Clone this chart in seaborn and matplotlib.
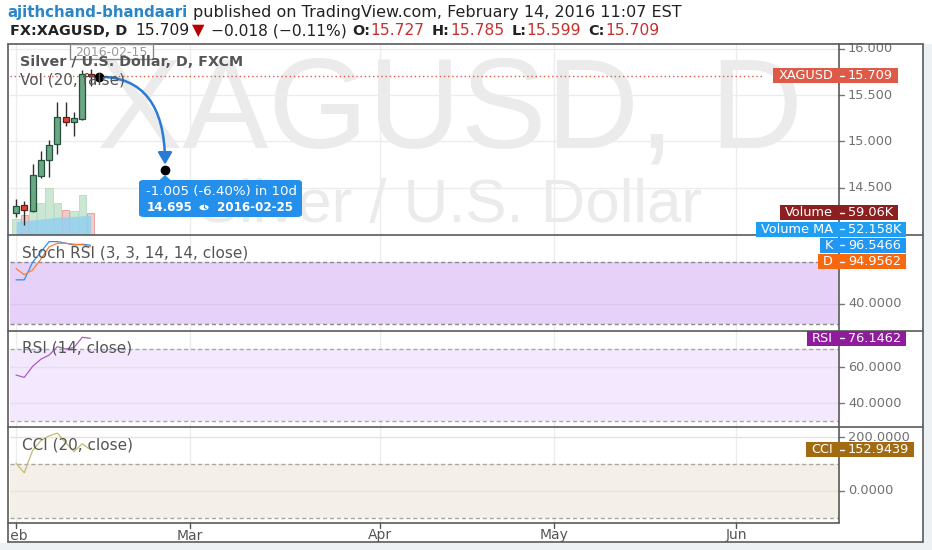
import numpy as np
import pandas as pd
import matplotlib
matplotlib.use("Agg")
import matplotlib.pyplot as plt
import seaborn as sns
from matplotlib.patches import Rectangle, FancyBboxPatch, Polygon, Circle, FancyArrowPatch, ArrowStyle
from matplotlib.lines import Line2D
from matplotlib.path import Path
from matplotlib.transforms import Bbox

# ---------------- data ----------------
dates = ["2016-02-01", "2016-02-02", "2016-02-03", "2016-02-04", "2016-02-05",
         "2016-02-08", "2016-02-09", "2016-02-10", "2016-02-11", "2016-02-12"]
opens = [14.23, 14.31, 14.25, 14.63, 14.80, 14.97, 15.27, 15.21, 15.24, 15.727]
highs = [14.38, 14.36, 14.76, 14.90, 15.02, 15.43, 15.43, 15.32, 15.77, 15.785]
lows = [14.18, 14.10, 14.24, 14.60, 14.62, 14.87, 15.17, 15.06, 15.23, 15.599]
closes = [14.30, 14.26, 14.64, 14.80, 14.96, 15.27, 15.21, 15.25, 15.727, 15.709]
volume_k = [42, 53, 66, 85, 124, 85, 66, 63, 106, 59.06]
volume_ma_k = [36, 38, 40, 42, 45, 47, 48, 49, 51, 52.158]
stoch_k = [63, 63, 80, 90, 100, 100, 98.5, 96.7, 97.5, 96.5466]
stoch_d = [74, 68, 72.5, 83, 95, 98.4, 98.4, 97.5, 97, 94.9562]
rsi_vals = [55.7, 54.4, 60.5, 64.5, 66.8, 71.5, 70.2, 71.0, 76.7, 76.1462]
cci_vals = [103, 68, 150, 188, 205, 215, 180, 146, 176, 152.9439]

month_ticks = ["2016-02-01", "2016-03-01", "2016-04-01", "2016-05-02", "2016-06-01"]
month_labels = ["Feb", "Mar", "Apr", "May", "Jun"]
price_ticks = [14.5, 15.0, 15.5, 16.0]
stoch_ticks = [40, 80]
rsi_ticks = [40, 60]
cci_ticks = [0, 200]
last_price = 15.709
proj_start = ("2016-02-15", 15.70)
proj_end = ("2016-02-25", 14.695)

# ---------------- setup ----------------
sns.set_theme(style="white")
plt.rcParams["font.family"] = ["DejaVu Sans"]

W, H = 932, 550
fig = plt.figure(figsize=(W / 100, H / 100), dpi=100, facecolor="white")
fig.canvas.draw()
R = fig.canvas.get_renderer()

cal = pd.bdate_range("2016-02-01", "2016-06-30")
def bx(d):
    return cal.get_loc(pd.Timestamp(d))
xs = np.array([bx(d) for d in dates])

PL, PR = 10, 839
BAR_PX, X0_PX = 8.28, 16
XLIM = ((PL - X0_PX) / BAR_PX, (PR - X0_PX) / BAR_PX)

def axpx(x0, y0, x1, y1, **kw):
    ax = fig.add_axes([x0 / W, 1 - y1 / H, (x1 - x0) / W, (y1 - y0) / H], **kw)
    ax.set_xlim(*XLIM)
    ax.set_xticks([]); ax.set_yticks([])
    for s in ax.spines.values():
        s.set_visible(False)
    return ax

ax_vol = axpx(PL, 44, PR, 235)
ax_main = axpx(PL, 44, PR, 235)
ax_main.set_facecolor("none")
ax_st = axpx(PL, 235, PR, 331)
ax_rsi = axpx(PL, 331, PR, 427)
ax_cci = axpx(PL, 427, PR, 523)

ax_main.set_ylim(13.989, 16.054)
ax_vol.set_ylim(0, 506)
ax_st.set_ylim(13.5, 106.4)
ax_rsi.set_ylim(26.8, 80.2)
ax_cci.set_ylim(-119, 238)

GRID = "#ececec"
mx = [bx(d) for d in month_ticks]
for ax in (ax_vol, ax_st, ax_rsi, ax_cci):
    for m in mx:
        ax.axvline(m, color=GRID, lw=1, zorder=0.2)
for v in price_ticks:
    ax_vol.axhline((v - 13.989) / (16.054 - 13.989) * 506, color=GRID, lw=1, zorder=0.2)
for v in stoch_ticks[:1]:
    ax_st.axhline(v, color="#dcc8ee", lw=1, zorder=0.6)
for v in rsi_ticks:
    ax_rsi.axhline(v, color="#e6def0", lw=1, zorder=0.6)
for v in cci_ticks:
    ax_cci.axhline(v, color="#e8e2dc", lw=1, zorder=0.6)

def ptext(x, y, s, **kw):
    return fig.text(x / W, 1 - y / H, s, **kw)

def prect(x0, y0, x1, y1, color, z=2.0, **kw):
    r = Rectangle((x0 / W, 1 - y1 / H), (x1 - x0) / W, (y1 - y0) / H,
                  transform=fig.transFigure, facecolor=color, edgecolor="none", zorder=z, **kw)
    fig.add_artist(r)
    return r

def pline(x0, y0, x1, y1, color="#5a5a5a", lw=1.2, z=2.2, **kw):
    fig.add_artist(Line2D([x0 / W, x1 / W], [1 - y0 / H, 1 - y1 / H],
                          transform=fig.transFigure, color=color, lw=lw, zorder=z, **kw))

def text_w(s, size, **kw):
    t = fig.text(0, 0, s, fontsize=size, **kw)
    w = t.get_window_extent(R).width
    t.remove()
    return w

def fit(s, target, **kw):
    return 10 * target / text_w(s, 10, **kw)

# ---------------- watermark ----------------
WMX = 450
wm1 = fit("XAGUSD, D", 706, family="Liberation Sans")
wm2 = fit("Silver / U.S. Dollar", 506, family="Liberation Sans")
ax_vol.text(WMX / W, 1 - 147 / H, "XAGUSD, D", transform=fig.transFigure, ha="center",
            va="baseline", fontsize=wm1, family="Liberation Sans", color="#ebebeb", zorder=0.1, clip_on=True)
ax_vol.text(WMX / W, 1 - 222 / H, "Silver / U.S. Dollar", transform=fig.transFigure, ha="center",
            va="baseline", fontsize=wm2, family="Liberation Sans", color="#ebebeb", zorder=0.1, clip_on=True)

# ---------------- volume ----------------
up = np.array(closes) >= np.array(opens)
vcols = ["#cbe7d3" if u else "#f4c9c6" for u in up]
vedge = ["#b5dcc0" if u else "#e79a94" for u in up]
ax_vol.bar(xs, volume_k, width=0.9, color=vcols, edgecolor=vedge, lw=0.6, zorder=1)
ax_vol.fill_between(xs, 0, volume_ma_k, color="#93d0ef", alpha=0.85, lw=0, zorder=1.5)

# ---------------- candles ----------------
ax_main.axhline(last_price, xmax=(763 - PL) / (PR - PL), color="#dd5a47", lw=1, ls=(0, (1, 2)), zorder=2)
for x, o, h, l, c, u in zip(xs, opens, highs, lows, closes, up):
    ax_main.vlines(x, l, h, color="#2e2e2e", lw=1, zorder=3)
    fc, ec = ("#6aa884", "#23503a") if u else ("#d9473c", "#6a1c15")
    ax_main.add_patch(Rectangle((x - 0.36, min(o, c)), 0.72, max(abs(c - o), 0.006),
                                facecolor=fc, edgecolor=ec, lw=0.9, zorder=4))

# ---------------- projection drawing ----------------
sx, sy = bx(proj_start[0]), proj_start[1]
ex, ey = bx(proj_end[0]), proj_end[1]
dy_gap = 5 * (16.054 - 13.989) / 191
path = Path([(sx, sy), (ex, sy), (ex, ey + dy_gap)], [Path.MOVETO, Path.CURVE3, Path.CURVE3])
arrow = FancyArrowPatch(path=path, arrowstyle=ArrowStyle("-|>", head_length=0.6, head_width=0.35),
                        mutation_scale=12, color="#2a7bd8", lw=1.8, zorder=6)
ax_main.add_patch(arrow)
ax_main.plot([sx, ex], [sy, ey], "o", color="black", ms=6, zorder=7, clip_on=False)

# info box
BOXC = "#2490ec"
fig.add_artist(FancyBboxPatch((139 / W, 1 - 217 / H), (302 - 139) / W, (217 - 180) / H,
                              boxstyle="round,pad=0,rounding_size=0.005", transform=fig.transFigure,
                              facecolor=BOXC, edgecolor="none", zorder=2.6))
fig.add_artist(Polygon([(159 / W, 1 - 180.5 / H), (165 / W, 1 - 175 / H), (171 / W, 1 - 180.5 / H)],
                       closed=True, transform=fig.transFigure, facecolor=BOXC, edgecolor="none", zorder=2.6))
chg = ey - sy
pct = chg / sy * 100
ndays = (pd.Timestamp(proj_end[0]) - pd.Timestamp(proj_start[0])).days
l1 = f"{chg:.3f} ({pct:.2f}%) in {ndays}d"
s1 = fit(l1, 151)
ptext(146, 192, l1, fontsize=s1, color="white", va="center", ha="left", zorder=3)
s2 = fit(proj_end[0], 76, weight="bold")
ptext(146.7, 207.5, f"{ey:.3f}", fontsize=s2, color="white", weight="bold", va="center", ha="left", zorder=3)
fig.add_artist(Circle((204 / W, 1 - 207.5 / H), radius=4.6 / W, transform=fig.transFigure,
                      facecolor="white", edgecolor="none", zorder=2.8))
pline(204, 207.5, 204, 204.8, color=BOXC, lw=0.8, z=2.9)
pline(204, 207.5, 206.2, 208.8, color=BOXC, lw=0.8, z=2.9)
ptext(217, 207.5, proj_end[0], fontsize=s2, color="white", weight="bold", va="center", ha="left", zorder=3)

# date tooltip at top
prect(70, 44, 153, 58.5, "white", z=2.3)
fig.add_artist(Rectangle((70 / W, 1 - 58.5 / H), 83 / W, 14.5 / H, transform=fig.transFigure,
                         facecolor="none", edgecolor="#8a8a8a", lw=1, zorder=2.35))
sz_tip = fit(proj_start[0], 72)
ptext(111.5, 53, proj_start[0], fontsize=sz_tip, color="#9a9a9a", ha="center", va="center", zorder=2.4)

# ---------------- indicators ----------------
ax_st.axhspan(20, 80, color="#e6d2f8", zorder=0.3, lw=0)
for v in (20, 80):
    ax_st.axhline(v, color="#8a8a8a", lw=1, ls=(0, (3, 2)), zorder=0.7)
sns.lineplot(x=xs, y=stoch_k, ax=ax_st, color="#2f8ff0", lw=0.9, zorder=2, legend=False)
sns.lineplot(x=xs, y=stoch_d, ax=ax_st, color="#ff7b2e", lw=0.9, zorder=2, legend=False)

ax_rsi.axhspan(30, 70, color="#f3e8fd", zorder=0.3, lw=0)
for v in (30, 70):
    ax_rsi.axhline(v, color="#a8a8a8", lw=1, ls=(0, (3, 2)), zorder=0.7)
sns.lineplot(x=xs, y=rsi_vals, ax=ax_rsi, color="#a75ec2", lw=0.9, zorder=2, legend=False)

ax_cci.axhspan(-100, 100, color="#f4efe9", zorder=0.3, lw=0)
for v in (-100, 100):
    ax_cci.axhline(v, color="#a8a8a8", lw=1, ls=(0, (3, 2)), zorder=0.7)
sns.lineplot(x=xs, y=cci_vals, ax=ax_cci, color="#c4bb6c", lw=0.9, zorder=2, legend=False)

for ax in (ax_vol, ax_main, ax_st, ax_rsi, ax_cci):
    ax.set_xlim(*XLIM)
    ax.set_xlabel(""); ax.set_ylabel("")
    ax.set_xticks([]); ax.set_yticks([])
ax_st.set_ylim(13.5, 106.4)
ax_rsi.set_ylim(26.8, 80.2)
ax_cci.set_ylim(-119, 238)

# ---------------- frame ----------------
prect(0, 542.5, W, H, "#eef1f4", z=0.5)
prect(923.5, 44, W, H, "#eef1f4", z=0.5)
pline(8, 44, 923, 44)
pline(8, 542, 923, 542)
pline(8, 44, 8, 542)
pline(923, 44, 923, 542)
pline(839, 44, 839, 523)
pline(8, 523, 839, 523)
for yy in (235, 331, 427):
    pline(8, yy, 923, yy)

# ---------------- texts in panes ----------------
sz_leg = fit("Stoch RSI (3, 3, 14, 14, close)", 225)
sz_title = fit("Silver / U.S. Dollar, D, FXCM", 223, weight="bold")
ptext(20, 62, "Silver / U.S. Dollar, D, FXCM", fontsize=sz_title, weight="bold", color="#555555", va="center", zorder=3)
ptext(20.5, 80, "Vol (20, false)", fontsize=sz_leg, color="#555555", va="center", zorder=3)
ptext(21.5, 252.7, "Stoch RSI (3, 3, 14, 14, close)", fontsize=sz_leg, color="#555555", va="center", zorder=3)
ptext(21.5, 348.3, "RSI (14, close)", fontsize=sz_leg, color="#555555", va="center", zorder=3)
ptext(21.5, 445, "CCI (20, close)", fontsize=sz_leg, color="#555555", va="center", zorder=3)

# ---------------- right axis ----------------
sz_ax = fit("15.000", 45)
def ypx(ax, v):
    return H - ax.transData.transform((0, v))[1]

for ax, ticks, fmt in ((ax_main, price_ticks, "{:.3f}"), (ax_st, stoch_ticks, "{:.4f}"),
                       (ax_rsi, rsi_ticks, "{:.4f}"), (ax_cci, cci_ticks, "{:.4f}")):
    for v in ticks:
        y = ypx(ax, v)
        pline(839, y, 844, y, color="#777777", lw=1, z=2.1)
        ptext(848, y, fmt.format(v), fontsize=sz_ax, color="#707070", va="center", ha="left", zorder=2.05)

def label_group(items):
    items = sorted(items, key=lambda t: t[0])
    for i in range(1, len(items)):
        if items[i][0] < items[i - 1][0] + 16.5:
            items[i] = (items[i - 1][0] + 16.5,) + tuple(items[i][1:])
    for y, name, val, col in items:
        t = ptext(833, y, name, fontsize=sz_ax, color="white", va="center", ha="right", zorder=3)
        bb = t.get_window_extent(R)
        prect(bb.x0 - 5, y - 7.5, 838, y + 7.5, col, z=2.8)
        t2 = ptext(848, y, val, fontsize=sz_ax, color="white", va="center", ha="left", zorder=3)
        bb2 = t2.get_window_extent(R)
        prect(838, y - 7.5, bb2.x1 + 5, y + 7.5, col, z=2.8)
        pline(840, y, 844, y, color="white", lw=1, z=2.9)

label_group([(ypx(ax_main, last_price), "XAGUSD", f"{last_price:.3f}", "#dc5a47"),
             (ypx(ax_vol, volume_k[-1]), "Volume", f"{volume_k[-1]:.2f}K", "#8c2020"),
             (ypx(ax_vol, volume_ma_k[-1]), "Volume MA", f"{volume_ma_k[-1]:.3f}K", "#1f9ff2")])
label_group([(ypx(ax_st, stoch_k[-1]), "K", f"{stoch_k[-1]:.4f}", "#2196f3"),
             (ypx(ax_st, stoch_d[-1]), "D", f"{stoch_d[-1]:.4f}", "#f7680f")])
label_group([(ypx(ax_rsi, rsi_vals[-1]), "RSI", f"{rsi_vals[-1]:.4f}", "#8e1c9c")])
label_group([(ypx(ax_cci, cci_vals[-1]), "CCI", f"{cci_vals[-1]:.4f}", "#a26b12")])

# ---------------- time axis ----------------
sz_x = fit("May", 29)
clip = Bbox.from_extents(11, 0, W, H)
for m, lab in zip(mx, month_labels):
    xp = fig.transFigure.inverted().transform(ax_cci.transData.transform((m, 0)))[0] * W
    pline(xp, 523, xp, 527.5, color="#555555", lw=1, z=2.1)
    t = ptext(xp, 535.5, lab, fontsize=sz_x, color="#555555", ha="center", va="center", zorder=3)
    t.set_clip_box(clip)
    t.set_clip_on(True)

# ---------------- header ----------------
sz_name = fit("ajithchand-bhandaari", 181, weight="bold")
sz_pub = fit("published on TradingView.com,", 247)
ptext(7, 12.7, "ajithchand-bhandaari", fontsize=sz_name, weight="bold", color="#2a86c8", va="center", zorder=3)
ptext(193, 12.7, "published on TradingView.com, February 14, 2016 11:07 EST", fontsize=sz_pub,
      color="#222222", va="center", zorder=3)

sz_b2 = fit("FX:XAGUSD, D", 117, weight="bold")
sz_n2 = fit("15.709", 54)
red = "#c9302c"
dark = "#222222"
chg_last = closes[-1] - closes[-2]
Y2 = 30.7
ptext(10, Y2, "FX:XAGUSD, D", fontsize=sz_b2, weight="bold", color=dark, va="center", zorder=3)
ptext(135, Y2, f"{closes[-1]:.3f}", fontsize=sz_n2, color=dark, va="center", zorder=3)
ptext(192, Y2, "\u25bc", fontsize=sz_n2 * 1.05, color="#b80000", va="center", zorder=3)
ptext(211, Y2, f"\u2212{abs(chg_last):.3f} (\u2212{abs(chg_last) / closes[-2] * 100:.2f}%)",
      fontsize=sz_n2, color=dark, va="center", zorder=3)
x = 352
for lab, val in (("O:", opens[-1]), ("H:", highs[-1]), ("L:", lows[-1]), ("C:", closes[-1])):
    t = ptext(x, Y2, lab, fontsize=sz_b2, weight="bold", color=dark, va="center", zorder=3)
    x += t.get_window_extent(R).width + 0.5
    t = ptext(x, Y2, f"{val:.3f}", fontsize=sz_n2, color=red, va="center", zorder=3)
    x += t.get_window_extent(R).width + 7

fig.savefig("out.png", dpi=100, facecolor="white")
